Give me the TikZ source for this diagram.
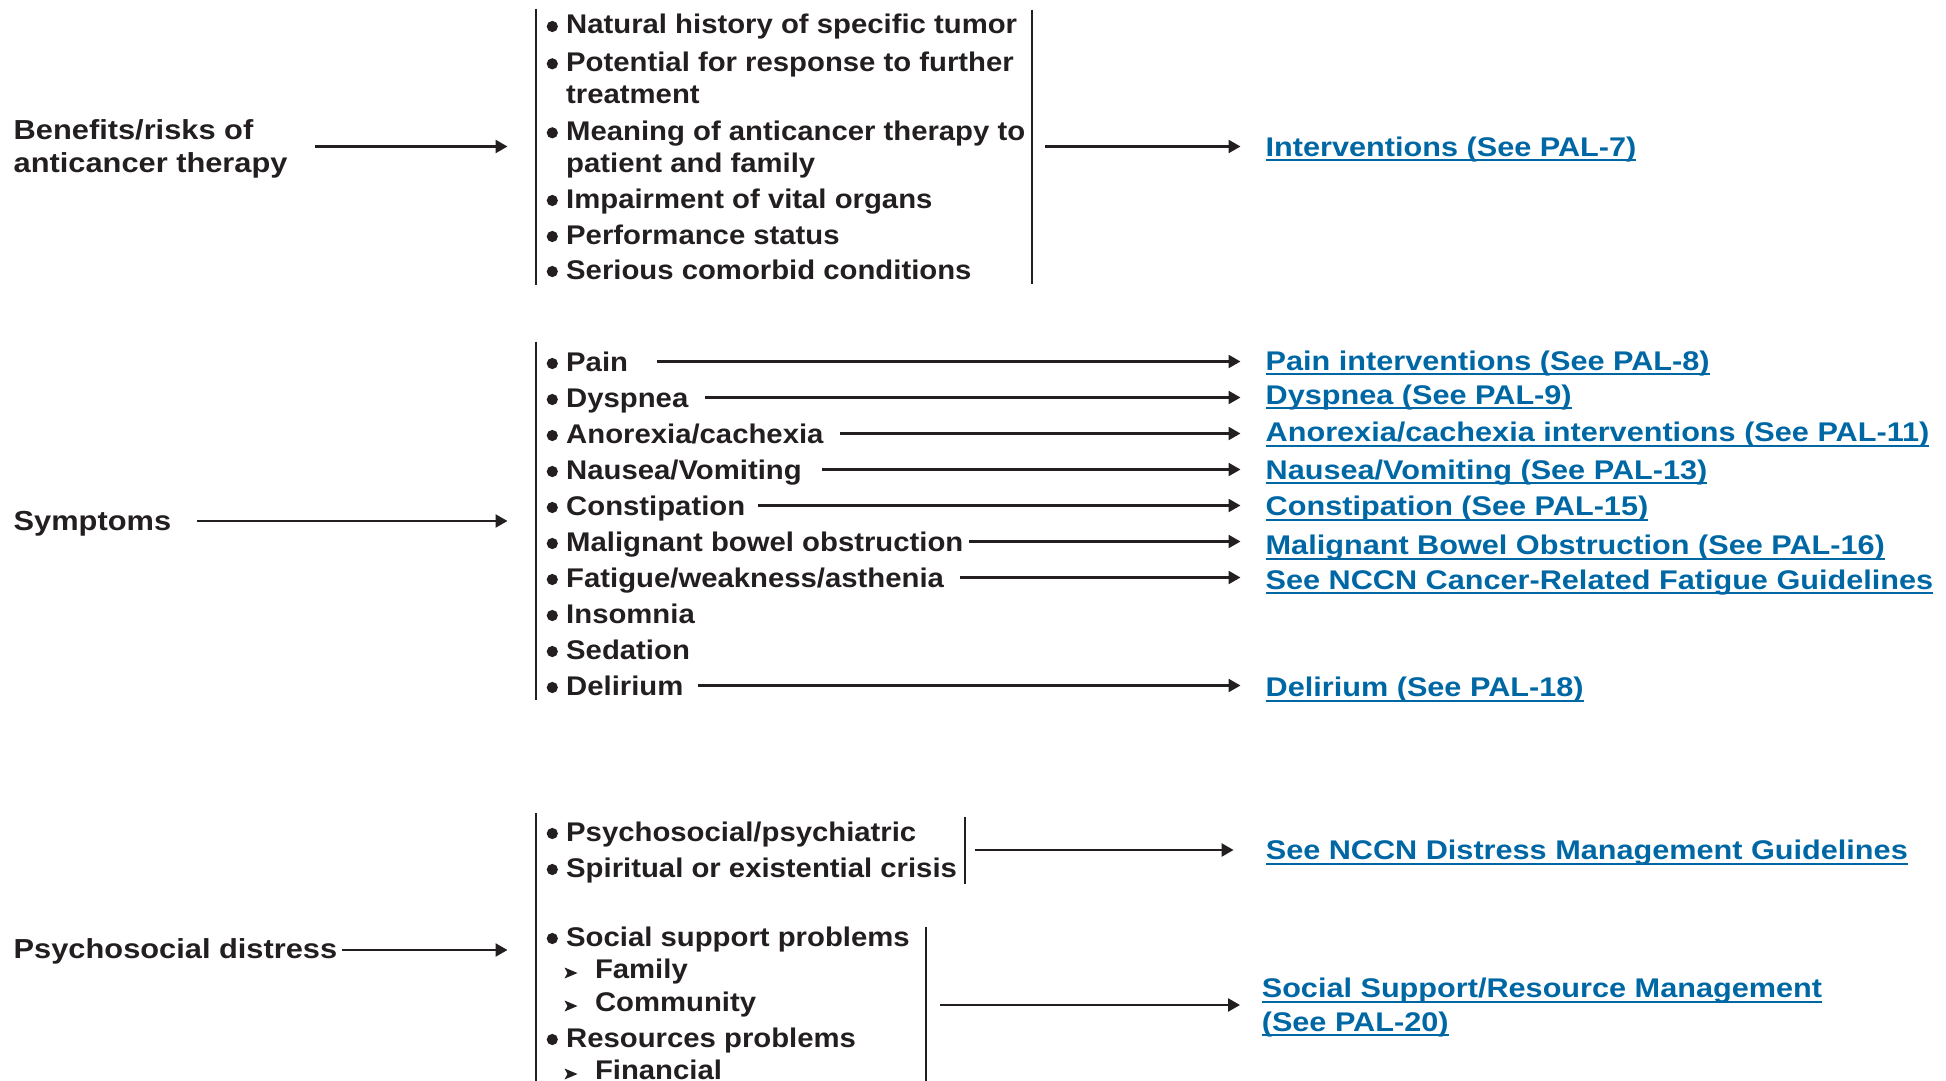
\documentclass[tikz,border=0pt]{standalone}
\usepackage{fontspec}
\setmainfont{Liberation Sans}
\newfontfamily\itemfont{Liberation Sans}[FakeStretch=1.085]
\newfontfamily\labelfont{Liberation Sans}[FakeStretch=1.12]
\newfontfamily\linkfont{Liberation Sans}[FakeStretch=1.135]
\usetikzlibrary{arrows.meta}
\definecolor{txtblack}{HTML}{231F20}
\definecolor{linkblue}{HTML}{0067A5}
\newcommand{\ulink}[1]{\setbox0\hbox{#1}\rlap{\color{linkblue}\rule[-5.4pt]{\wd0}{2.4pt}}\box0}
\tikzset{
  txt/.style={anchor=base west, inner sep=0pt, align=left, text=txtblack,
    font=\itemfont\fontsize{27}{31.7}\selectfont\bfseries},
  lbl/.style={txt, font=\labelfont\fontsize{27.5}{33.5}\selectfont\bfseries},
  lnk/.style={txt, text=linkblue, font=\linkfont\fontsize{27}{33.3}\selectfont\bfseries},
  arr/.style={draw=txtblack, line width=2.4pt, -{Triangle[length=12pt,width=13pt]}},
  bar/.style={draw=txtblack, line width=2pt},
  dot/.style={fill=txtblack},
  subtri/.style={fill=txtblack},
}
\begin{document}
\begin{tikzpicture}[x=1pt,y=-1pt]
\useasboundingbox (0,0) rectangle (1946,1081);
\clip (0,0) rectangle (1946,1081);

% ---------- Benefits / risks ----------
\node[lbl] (benefits) at (13.5,172.5) {Benefits/risks of\\anticancer therapy};
\draw[bar] (536,9) -- (536,285);
\coordinate (brTop) at (536,146.5);
\draw[arr] (brTop -| 314.8,0) -- ([xshift=-28.5pt]brTop);

\node[txt] (t1) at (566,34) {Natural history of specific tumor};
\node[txt] (t2) at (566,103) {Potential for response to further\\treatment};
\node[txt] (t3) at (566,172) {Meaning of anticancer therapy to\\patient and family};
\node[txt] (t4) at (566,208) {Impairment of vital organs};
\node[txt] (t5) at (566,244) {Performance status};
\node[txt] (t6) at (566,279) {Serious comorbid conditions};

\draw[bar] (1032,10) -- (1032,284);
\coordinate (brTopR) at (1032,146.5);
\node[lnk] (lint) at (1265.5,156) {\ulink{Interventions (See PAL-7)}};
\coordinate (lintTip) at ([xshift=-25pt]lint.base west);
\draw[arr] ([xshift=13pt]brTopR) -- (brTopR -| lintTip);

% ---------- Symptoms ----------
\node[lbl] (symptoms) at (13.5,530) {Symptoms};
\draw[bar] (536,341.5) -- (536,700);
\coordinate (brSym) at (536,521);
\draw[arr] ([xshift=26pt]symptoms.base east |- brSym) -- ([xshift=-28.5pt]brSym);

\node[txt] (s1) at (566,371) {Pain};
\node[txt] (s2) at (566,407) {Dyspnea};
\node[txt] (s3) at (566,443) {Anorexia/cachexia};
\node[txt] (s4) at (566,479) {Nausea/Vomiting};
\node[txt] (s5) at (566,515) {Constipation};
\node[txt] (s6) at (566,551) {Malignant bowel obstruction};
\node[txt] (s7) at (566,587) {Fatigue/weakness/asthenia};
\node[txt] (s8) at (566,623) {Insomnia};
\node[txt] (s9) at (566,659) {Sedation};
\node[txt] (s10) at (566,695) {Delirium};

\node[lnk] (l1) at (1265.5,370) {\ulink{Pain interventions (See PAL-8)}};
\node[lnk] (l2) at (1265.5,404) {\ulink{Dyspnea (See PAL-9)}};
\node[lnk] (l3) at (1265.5,441.5) {\ulink{Anorexia/cachexia interventions (See PAL-11)}};
\node[lnk] (l4) at (1265.5,479) {\ulink{Nausea/Vomiting (See PAL-13)}};
\node[lnk] (l5) at (1265.5,515.5) {\ulink{Constipation (See PAL-15)}};
\node[lnk] (l6) at (1265.5,554.5) {\ulink{Malignant Bowel Obstruction (See PAL-16)}};
\node[lnk] (l7) at (1265.5,589) {\ulink{See NCCN Cancer-Related Fatigue Guidelines}};
\node[lnk] (l10) at (1265.5,696.5) {\ulink{Delirium (See PAL-18)}};

\foreach \s/\l/\g in {s1/l1/29, s2/l2/16, s3/l3/16, s4/l4/20, s5/l5/13, s6/l6/5, s7/l7/16, s10/l10/14}{
  \coordinate (st) at ([xshift=\g pt, yshift=9.5pt]\s.base east);
  \coordinate (en) at ([xshift=-25pt]\l.base west);
  \draw[arr] (st) -- (st -| en);
}

% ---------- Psychosocial distress ----------
\node[lbl] (psy) at (13.5,958.5) {Psychosocial distress};
\draw[bar] (536,813) -- (536,1090);
\coordinate (brPsy) at (536,950);
\draw[arr] ([xshift=5pt]psy.base east |- brPsy) -- ([xshift=-28.5pt]brPsy);

\node[txt] (p1) at (566,841) {Psychosocial/psychiatric};
\node[txt] (p2) at (566,877) {Spiritual or existential crisis};
\node[txt] (p3) at (566,946) {Social support problems};
\node[txt] (p4) at (594.8,978) {Family};
\node[txt] (p5) at (594.8,1011) {Community};
\node[txt] (p6) at (566,1047) {Resources problems};
\node[txt] (p7) at (594.8,1079) {Financial};

% bullets
\foreach \b in {34,71.3,140.3,208,244,279,371,407,443,479,515,551,587,623,659,695,841,877,946,1047}{
  \fill[dot] (552.3,\b-7.5) circle[radius=5.6pt];
}
% sub-bullets
\foreach \b in {978,1011,1079}{
  \fill[subtri] (564.5,\b+0.5) -- (567.5,\b-5) -- (564.5,\b-10.5) -- (577.5,\b-5) -- cycle;
}

\draw[bar] (964.5,816.5) -- (964.5,883.5);
\coordinate (brA) at (964.5,850);
\node[lnk] (ld) at (1265.6,859.5) {\ulink{See NCCN Distress Management Guidelines}};
\coordinate (ldTip) at ([xshift=-32pt]ld.base west);
\draw[arr] ([xshift=10pt]brA) -- (brA -| ldTip);

\draw[bar] (925.5,926.5) -- (925.5,1090);
\coordinate (brB) at (925.5,1005);
\node[lnk] (ls) at (1261.6,1031) {\ulink{Social Support/Resource Management}\\\ulink{(See PAL-20)}};
\coordinate (lsTip) at ([xshift=-21.6pt]ls.base west);
\draw[arr] ([xshift=14.5pt]brB) -- (brB -| lsTip);

\end{tikzpicture}
\end{document}
